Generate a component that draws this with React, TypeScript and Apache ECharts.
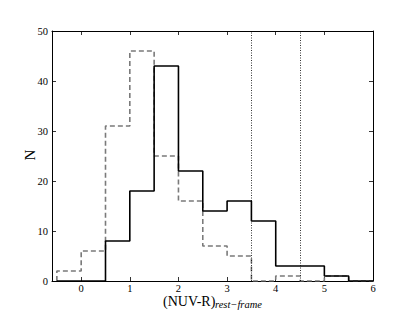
import React, { useEffect, useRef } from "react";
import * as echarts from "echarts";

const binEdges = [-0.5, 0, 0.5, 1, 1.5, 2, 2.5, 3, 3.5, 4, 4.5, 5, 5.5, 6];
const solidCounts = [0, 0, 8, 18, 43, 22, 14, 16, 12, 3, 3, 1, 0];
const dashedCounts = [2, 6, 31, 46, 25, 16, 7, 5, 0, 1, 0, 1, 0];
const cutLines = [3.5, 4.5];
const xTicks = [0, 1, 2, 3, 4, 5, 6];
const yTicks = [0, 10, 20, 30, 40, 50];

function stepPoints(counts: number[]) {
  const pts: number[][] = [[binEdges[0], 0]];
  counts.forEach((c, i) => {
    pts.push([binEdges[i], c]);
    pts.push([binEdges[i + 1], c]);
  });
  pts.push([binEdges[binEdges.length - 1], 0]);
  return pts;
}

export default function App() {
  const ref = useRef<HTMLDivElement>(null);
  useEffect(() => {
    if (!ref.current) return;
    const chart = echarts.init(ref.current, null, { renderer: "svg" });
    const font = "Liberation Serif";
    const axisLine = { show: true, onZero: false, lineStyle: { color: "#000", width: 1 } };
    const tick = { show: true, inside: true, length: 4, lineStyle: { color: "#000", width: 0.8 } };
    chart.setOption({
      animation: false,
      backgroundColor: "#fff",
      grid: { left: 52, top: 31, right: 42, bottom: 31, containLabel: false },
      xAxis: [
        {
          type: "value",
          min: -0.6,
          max: 6,
          axisLine,
          axisTick: { ...tick, customValues: xTicks },
          axisLabel: { customValues: xTicks, color: "#000", fontFamily: font, fontSize: 10.5, margin: 2 },
          splitLine: { show: false },
        },
        {
          type: "value",
          position: "top",
          min: -0.6,
          max: 6,
          axisLine,
          axisTick: { ...tick, customValues: xTicks },
          axisLabel: { show: false, customValues: xTicks },
          splitLine: { show: false },
        },
      ],
      yAxis: [
        {
          type: "value",
          min: 0,
          max: 50,
          interval: 10,
          axisLine,
          axisTick: tick,
          axisLabel: { color: "#000", fontFamily: font, fontSize: 10.5, margin: 4 },
          splitLine: { show: false },
        },
        {
          type: "value",
          position: "right",
          min: 0,
          max: 50,
          interval: 10,
          axisLine,
          axisTick: tick,
          axisLabel: { show: false },
          splitLine: { show: false },
        },
      ],
      series: [
        {
          type: "line",
          data: stepPoints(dashedCounts),
          symbol: "none",
          lineStyle: { color: "#7a7a7a", width: 1.6, type: [5, 3] },
          z: 2,
        },
        {
          type: "line",
          data: stepPoints(solidCounts),
          symbol: "none",
          lineStyle: { color: "#000", width: 1.6 },
          z: 3,
          markLine: {
            silent: true,
            symbol: "none",
            label: { show: false },
            lineStyle: { color: "#000", width: 0.8, type: [1, 1.5] },
            data: cutLines.map((v) => ({ xAxis: v })),
          },
        },
      ],
      graphic: [
        {
          type: "text",
          x: 30,
          y: 155,
          rotation: Math.PI / 2,
          style: { text: "N", fontFamily: font, fontSize: 15, fill: "#000", align: "center", verticalAlign: "middle" },
        },
        {
          type: "text",
          left: 163,
          top: 294,
          style: { text: "(NUV-R)", fontFamily: font, fontSize: 14, fill: "#000" },
        },
        {
          type: "text",
          left: 215,
          top: 299,
          style: { text: "rest\u2212frame", fontFamily: font, fontStyle: "italic", fontSize: 10.5, fill: "#000" },
        },
      ],
    });
    return () => chart.dispose();
  }, []);
  return <div ref={ref} style={{ width: 415, height: 312, position: "absolute", left: 0, top: 0 }} />;
}
